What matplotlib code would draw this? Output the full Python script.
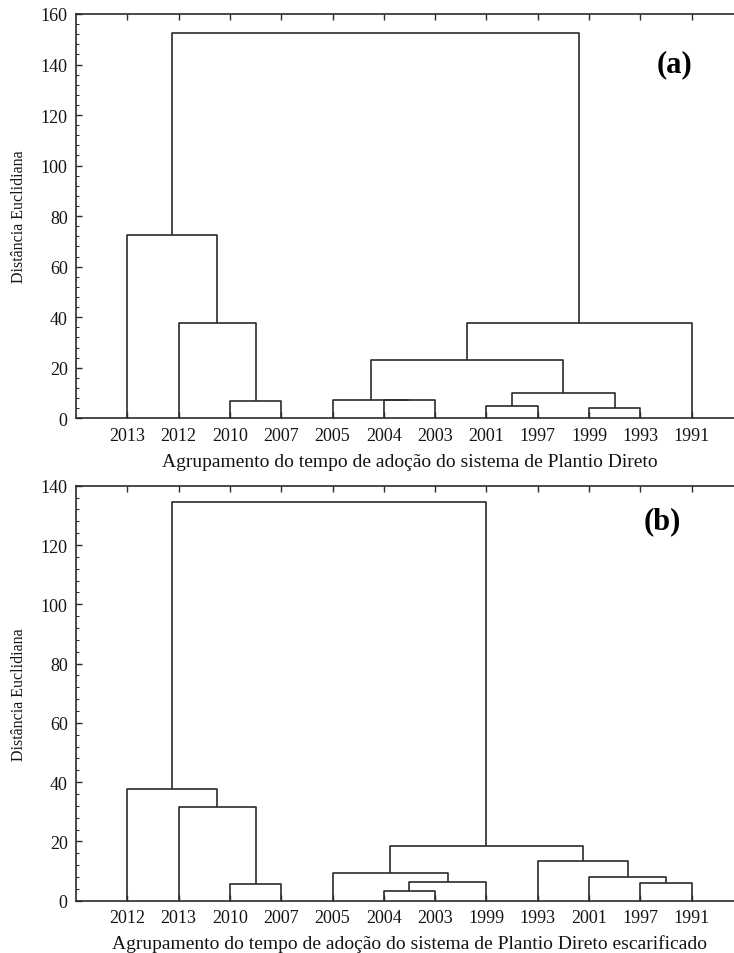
import numpy as np
import matplotlib.pyplot as plt
from matplotlib.ticker import MultipleLocator

plt.rcParams['font.family'] = ['Liberation Serif', 'DejaVu Serif']

# panel (a) - plantio direto
leaves_a = ['2013', '2012', '2010', '2007', '2005', '2004',
            '2003', '2001', '1997', '1999', '1993', '1991']
left_a = [2, 1, 0, 5, 4, 7, 9, 17, 16, 20, 14]
right_a = [3, 12, 13, 6, 15, 8, 10, 18, 19, 11, 21]
height_a = [6.7, 37.6, 72.7, 7.2, 7.3, 4.8, 4.2, 10.0, 23.1, 37.7, 152.5]

# panel (b) - plantio direto escarificado
leaves_b = ['2012', '2013', '2010', '2007', '2005', '2004',
            '2003', '1999', '1993', '2001', '1997', '1991']
left_b = [2, 1, 0, 5, 15, 4, 10, 9, 8, 17, 14]
right_b = [3, 12, 13, 6, 7, 16, 11, 18, 19, 20, 21]
height_b = [5.5, 31.7, 37.6, 3.3, 6.3, 9.2, 5.9, 8.0, 13.5, 18.6, 134.4]

line_col = '#2b2b2b'
txt_col = '#141414'


def draw_dendro(ax, leaves, left, right, height):
    n = len(leaves)
    xpos = {i: i + 1.0 for i in range(n)}
    ypos = {i: 0.0 for i in range(n)}
    for k in range(len(left)):
        a, b, h = left[k], right[k], height[k]
        xa, xb = xpos[a], xpos[b]
        ax.plot([xa, xa, xb, xb], [ypos[a], h, h, ypos[b]],
                color=line_col, lw=1.2, solid_capstyle='butt')
        xpos[n + k] = (xa + xb) / 2.0
        ypos[n + k] = h
    ax.set_xlim(0, n + 1)
    ax.set_xticks(np.arange(1, n + 1))
    ax.set_xticklabels(leaves)


fig = plt.figure(figsize=(7.34, 9.54), dpi=100)
ax1 = fig.add_axes([0.1035, 0.5605, 0.9088, 0.4238])
ax2 = fig.add_axes([0.1035, 0.0548, 0.9088, 0.4350])

draw_dendro(ax1, leaves_a, left_a, right_a, height_a)
draw_dendro(ax2, leaves_b, left_b, right_b, height_b)

ax1.set_ylim(0, 160)
ax1.yaxis.set_major_locator(MultipleLocator(20))
ax2.set_ylim(0, 140)
ax2.yaxis.set_major_locator(MultipleLocator(20))

ax1.set_xlabel('Agrupamento do tempo de adoção do sistema de Plantio Direto',
               fontsize=14, color=txt_col, labelpad=7)
ax2.set_xlabel('Agrupamento do tempo de adoção do sistema de Plantio Direto escarificado',
               fontsize=14, color=txt_col, labelpad=6)

for ax, tag, tx, ty in [(ax1, '(a)', 0.898, 0.876), (ax2, '(b)', 0.879, 0.915)]:
    ax.yaxis.set_minor_locator(MultipleLocator(4))
    ax.tick_params(axis='both', which='major', direction='in', length=4,
                   width=1, color=line_col, labelsize=13, labelcolor=txt_col,
                   top=True, right=False)
    ax.tick_params(axis='x', pad=6)
    ax.tick_params(axis='y', pad=6)
    ax.tick_params(axis='y', which='minor', direction='in', length=2.5,
                   width=0.8, color=line_col)
    ax.tick_params(axis='x', which='minor', bottom=False, top=False)
    for s in ax.spines.values():
        s.set_color(line_col)
        s.set_linewidth(1.2)
    ax.set_ylabel('Distância Euclidiana', fontsize=11.5, color=txt_col, labelpad=10)
    ax.text(tx, ty, tag, transform=ax.transAxes, fontsize=22,
            fontweight='bold', ha='center', va='center', color='black')

fig.savefig('out.png', dpi=100)
